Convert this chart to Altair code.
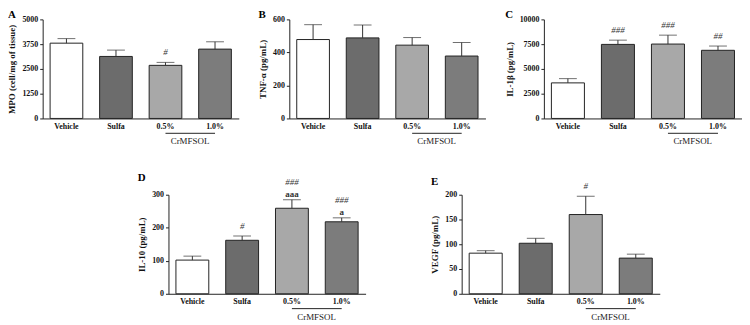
import altair as alt
import pandas as pd

categories = ["Vehicle", "Sulfa", "0.5%", "1.0%"]
fills = ["#ffffff", "#6c6c6c", "#a8a8a8", "#7c7c7c"]

mpo_mean = [3800, 3130, 2680, 3500]
mpo_sem = [230, 320, 150, 370]
mpo_hash = ["", "", "#", ""]
mpo_letter = ["", "", "", ""]

tnf_mean = [478, 488, 444, 378]
tnf_sem = [90, 78, 46, 82]
tnf_hash = ["", "", "", ""]
tnf_letter = ["", "", "", ""]

il1_mean = [3590, 7475, 7510, 6880]
il1_sem = [430, 430, 900, 430]
il1_hash = ["", "###", "###", "##"]
il1_letter = ["", "", "", ""]

il10_mean = [102, 162, 259, 218]
il10_sem = [12, 13, 26, 12]
il10_hash = ["", "#", "###", "###"]
il10_letter = ["", "", "aaa", "a"]

vegf_mean = [82, 102, 160, 72]
vegf_sem = [5, 10, 37, 8]
vegf_hash = ["", "", "#", ""]
vegf_letter = ["", "", "", ""]

FONT = "Liberation Serif"
H = 100


def panel(letter, ytitle, mean, sem, hashes, letters, ymax, ticks, width):
    df = pd.DataFrame({
        "group": categories,
        "mean": mean,
        "top": [m + s for m, s in zip(mean, sem)],
        "hash_lo": [h if not l else "" for h, l in zip(hashes, letters)],
        "hash_hi": [h if l else "" for h, l in zip(hashes, letters)],
        "letter": letters,
    })
    xscale = alt.Scale(domain=categories, paddingInner=0.34, paddingOuter=0.15)
    x = alt.X("group:N", sort=None, title=None, scale=xscale,
              axis=alt.Axis(labelAngle=0, ticks=False, labelPadding=4))
    yscale = alt.Scale(domain=[0, ymax], nice=False, zero=True)
    yaxis = alt.Axis(values=ticks, grid=False, format="d", labelOverlap=False,
                     tickCount=len(ticks))

    def Y(field):
        return alt.Y(field, type="quantitative", title=ytitle, scale=yscale, axis=yaxis)

    base = alt.Chart(df)
    bars = base.mark_bar(stroke="#222222", strokeWidth=1).encode(
        x=x, y=Y("mean"),
        color=alt.Color("group:N", scale=alt.Scale(domain=categories, range=fills), legend=None),
    )
    whisk = base.mark_rule(color="#333333", strokeWidth=1).encode(x=x, y=Y("mean"), y2="top:Q")
    cap = base.mark_tick(color="#333333", size=18, thickness=1).encode(x=x, y=Y("top"))
    tstyle = dict(baseline="middle", font=FONT, fontSize=9, color="#333333")
    t_lo = base.transform_filter("datum.hash_lo != ''").mark_text(
        dy=-10, fontStyle="italic", **tstyle).encode(x=x, y=Y("top"), text="hash_lo:N")
    t_hi = base.transform_filter("datum.hash_hi != ''").mark_text(
        dy=-18, fontStyle="italic", **tstyle).encode(x=x, y=Y("top"), text="hash_hi:N")
    t_let = base.transform_filter("datum.letter != ''").mark_text(
        dy=-6, fontWeight="bold", **tstyle).encode(x=x, y=Y("top"), text="letter:N")
    grp = pd.DataFrame({"group": ["0.5%"], "group2": ["1.0%"], "label": ["CrMFSOL"]})
    gline = alt.Chart(grp).mark_rule(color="#222222", strokeWidth=1).encode(
        x=x, x2="group2:N", y=alt.value(H + 15))
    gtext = alt.Chart(grp).mark_text(font=FONT, fontSize=9, color="#222222", baseline="middle",
                                     dx=width * 0.125).encode(
        x=x, y=alt.value(H + 23), text="label:N")
    return alt.layer(bars, whisk, cap, t_lo, t_hi, t_let, gline, gtext).properties(
        width=width, height=H,
        title=alt.TitleParams(letter, anchor="start", frame="bounds", font=FONT,
                              fontSize=11, fontWeight="bold", offset=-5, color="black"),
    )


A = panel("A", "MPO (cell/mg of tissue)", mpo_mean, mpo_sem, mpo_hash, mpo_letter, 5000,
          [0, 1250, 2500, 3750, 5000], 198)
B = panel("B", "TNF-α (pg/mL)", tnf_mean, tnf_sem, tnf_hash, tnf_letter, 600,
          [0, 200, 400, 600], 198)
C = panel("C", "IL-1β (pg/mL)", il1_mean, il1_sem, il1_hash, il1_letter, 10000,
          [0, 2500, 5000, 7500, 10000], 200)
D = panel("D", "IL-10 (pg/mL)", il10_mean, il10_sem, il10_hash, il10_letter, 300,
          [0, 100, 200, 300], 199)
E = panel("E", "VEGF (pg/mL)", vegf_mean, vegf_sem, vegf_hash, vegf_letter, 200,
          [0, 50, 100, 150, 200], 200)

spacer = alt.Chart(pd.DataFrame({"v": [0]})).mark_text(text="").encode(
    x=alt.X("v:Q", axis=None), y=alt.Y("v:Q", axis=None)).properties(width=30, height=H)

top = alt.hconcat(A, B, C, spacing=20).resolve_scale(x="independent", y="independent")
bottom = alt.hconcat(spacer, D, E, spacing=66).resolve_scale(x="independent", y="independent")

chart = alt.vconcat(top, bottom, spacing=26).resolve_scale(x="independent", y="independent").properties(
    padding=0, background="white"
).configure_view(stroke=None).configure_axis(
    domainColor="#222222", domainWidth=1, tickColor="#222222", tickSize=3,
    labelFont=FONT, labelFontWeight="bold", labelFontSize=8, labelColor="#111111",
    titleFont=FONT, titleFontWeight="bold", titleFontSize=9, titleColor="#111111",
    labelPadding=2, titlePadding=5,
)

chart.save("out.html", embed_options={"renderer": "svg", "actions": False})
